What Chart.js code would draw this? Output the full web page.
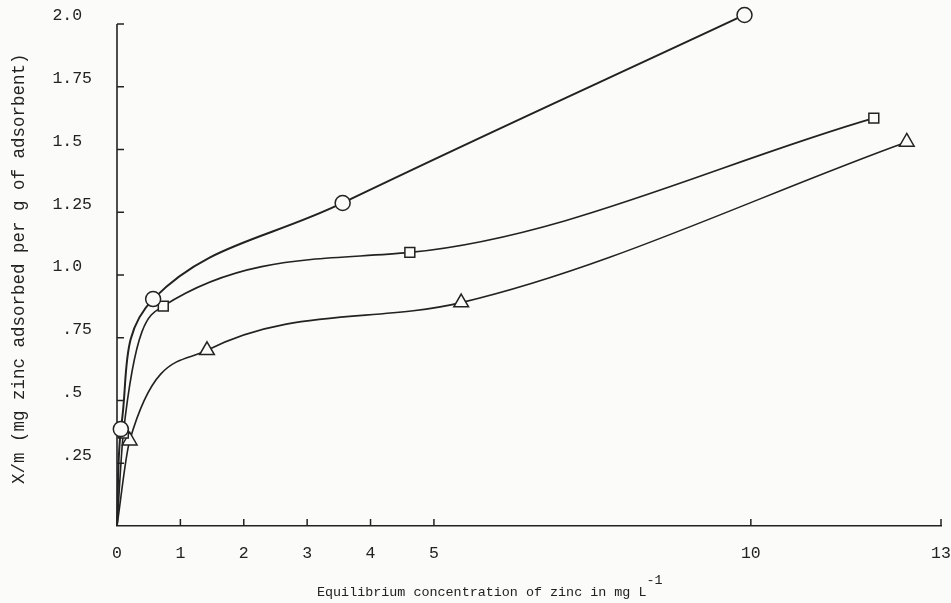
<!DOCTYPE html>
<html>
<head>
<meta charset="utf-8">
<script src="https://cdn.jsdelivr.net/npm/chart.js@4"></script>
<style>
    html, body { margin: 0; padding: 0; background: #fbfbfa; }
    #wrap { width: 951px; height: 603px; }
</style>
</head>
<body>
<div id="wrap"><canvas id="chart"></canvas></div>
<script>
// Isotherm data (x: mg/L, y: mg per g)
const circleX = [0, 0.06, 0.57, 3.56, 9.9];
const circleY = [0, 0.386, 0.904, 1.287, 2.036];
const squareX = [0, 0.1, 0.73, 4.62, 11.94];
const squareY = [0, 0.37, 0.876, 1.09, 1.625];
const triangleX = [0, 0.2, 1.42, 5.43, 12.46];
const triangleY = [0, 0.34, 0.70, 0.89, 1.53];

const xTicks = [0, 1, 2, 3, 4, 5, 10, 13];
const yTicks = [0.25, 0.5, 0.75, 1.0, 1.25, 1.5, 1.75, 2.0];
const yTickLabels = [" .25", " .5 ", " .75", "1.0 ", "1.25", "1.5 ", "1.75", "2.0 "];

const ink = '#222';
const mono = "'Liberation Mono', 'DejaVu Sans Mono', monospace";

function toPoints(xs, ys) {
    return xs.map((x, i) => ({ x: x, y: ys[i] }));
}

function series(xs, ys, style, radius, width, mode) {
    return {
        data: toPoints(xs, ys),
        borderColor: ink,
        borderWidth: width,
        pointStyle: style,
        pointRadius: ctx => ctx.dataIndex === 0 ? 0 : radius,
        pointBackgroundColor: '#fbfbfa',
        pointBorderColor: ink,
        pointBorderWidth: 1.5,
        tension: 0.4,
        cubicInterpolationMode: mode,
        clip: false
    };
}

// y axis line up to 2.0 only, plus inward tick marks like the typed figure
const innerTicks = {
    id: 'innerTicks',
    beforeDatasetsDraw(chart) {
        const c = chart.ctx;
        const xs = chart.scales.x;
        const ys = chart.scales.y;
        c.save();
        c.strokeStyle = ink;
        c.lineWidth = 1.6;
        c.beginPath();
        c.moveTo(ys.right, ys.getPixelForValue(0));
        c.lineTo(ys.right, ys.getPixelForValue(2));
        c.stroke();
        c.lineWidth = 1.5;
        c.beginPath();
        xTicks.forEach(v => {
            if (v === 0) return;
            const px = xs.getPixelForValue(v);
            c.moveTo(px, xs.top);
            c.lineTo(px, xs.top - 7);
        });
        yTicks.forEach(v => {
            const py = ys.getPixelForValue(v);
            c.moveTo(ys.right, py);
            c.lineTo(ys.right + 7, py);
        });
        c.stroke();
        c.restore();
    }
};

// x title with superscript
const xTitle = {
    id: 'xTitle',
    afterDraw(chart) {
        const c = chart.ctx;
        const area = chart.chartArea;
        const main = 'Equilibrium concentration of zinc in mg L';
        c.save();
        c.fillStyle = ink;
        c.font = "13.4px " + mono;
        c.textAlign = 'left';
        c.textBaseline = 'alphabetic';
        const x0 = area.left + 200;
        const y0 = area.bottom + 70;
        c.fillText(main, x0, y0);
        const w = c.measureText(main).width;
        c.fillText('-1', x0 + w, y0 - 12);
        c.restore();
    }
};

new Chart(document.getElementById('chart'), {
    type: 'line',
    data: {
        datasets: [
            series(circleX, circleY, 'circle', 7.5, 2, 'default'),
            series(squareX, squareY, 'rect', 7, 1.6, 'monotone'),
            series(triangleX, triangleY, 'triangle', 8.5, 1.6, 'monotone')
        ]
    },
    options: {
        responsive: true,
        maintainAspectRatio: false,
        animation: false,
        layout: { autoPadding: false, padding: { top: 11.45, right: 10, left: 0, bottom: 0 } },
        plugins: {
            legend: { display: false },
            tooltip: { enabled: false }
        },
        scales: {
            x: {
                type: 'linear',
                min: 0,
                max: 13,
                afterBuildTicks: scale => { scale.ticks = xTicks.map(v => ({ value: v })); },
                afterFit: scale => {
                    scale.height = 77;
                    scale.paddingLeft = 0;
                    scale.paddingRight = 0;
                },
                grid: { drawOnChartArea: false, drawTicks: false },
                border: { color: ink, width: 1.6 },
                ticks: {
                    color: ink,
                    padding: 18,
                    maxRotation: 0,
                    autoSkip: false,
                    font: { family: mono, size: 16.5 },
                    callback: v => String(v)
                }
            },
            y: {
                type: 'linear',
                min: 0,
                max: 2.05,
                afterBuildTicks: scale => { scale.ticks = yTicks.map(v => ({ value: v })); },
                afterFit: scale => {
                    scale.width = 117;
                    scale.paddingTop = 0;
                    scale.paddingBottom = 0;
                },
                grid: { drawOnChartArea: false, drawTicks: false },
                border: { display: false },
                ticks: {
                    color: ink,
                    padding: 25,
                    labelOffset: -8,
                    autoSkip: false,
                    font: { family: mono, size: 16.5 },
                    callback: (v, i) => yTickLabels[i]
                },
                title: {
                    display: true,
                    text: 'X/m (mg zinc adsorbed per g of adsorbent)',
                    color: ink,
                    padding: { top: 9, bottom: 0 },
                    font: { family: mono, size: 17.5 }
                }
            }
        }
    },
    plugins: [innerTicks, xTitle]
});
</script>
</body>
</html>
